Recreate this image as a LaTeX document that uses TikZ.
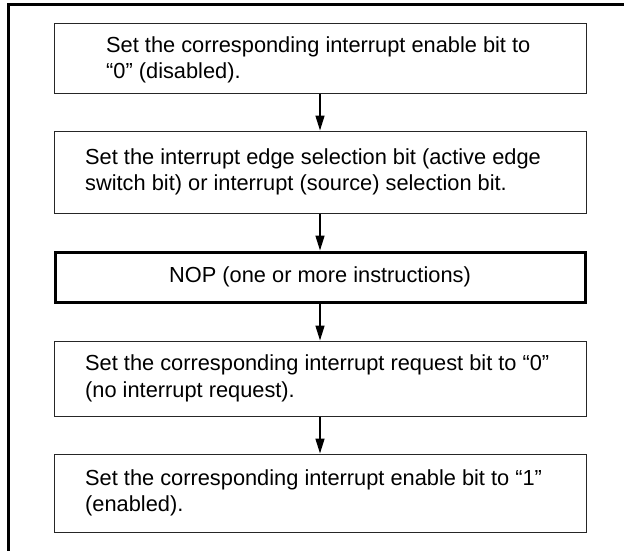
\documentclass[tikz,border=0pt]{standalone}
\usepackage{fontspec}
\setmainfont{Liberation Sans}
\usetikzlibrary{arrows.meta}
\tikzset{
  x=1pt, y=1pt,
  frameline/.style={line width=3pt},
  stepbox/.style={draw=black!85, line width=1pt, minimum width=532pt, inner sep=0pt},
  thickbox/.style={stepbox, draw=black, line width=3pt, minimum width=530pt},
  steptext/.style={align=left, anchor=west, inner sep=0pt,
    font=\fontsize{21.8}{26.5}\selectfont},
  flow/.style={line width=1.5pt, -{Triangle[length=15pt,width=9pt]}}
}
\begin{document}
\begin{tikzpicture}
\useasboundingbox (0,0) rectangle (624,-551);
\draw[frameline] (8.5,-551) -- (8.5,-4.5) -- (624,-4.5);
\node[stepbox, minimum height=69pt] (s1) at (320,-58.5) {};
\node[steptext] (t1) at (106,-60)
  {Set the corresponding interrupt enable bit to\\“0” (disabled).};
\node[stepbox, minimum height=82pt] (s2) at (320,-172) {};
\node[steptext] (t2) at (85,-172)
  {Set the interrupt edge selection bit (active edge\\switch bit) or interrupt (source) selection bit.};
\node[thickbox, minimum height=50pt] (s3) at (320,-277) {};
\node[steptext, anchor=center] (t3) at (320,-277) {NOP (one or more instructions)};
\node[stepbox, minimum height=75pt] (s4) at (320,-378.5) {};
\node[steptext] (t4) at (85,-378.5)
  {Set the corresponding interrupt request bit to “0”\\(no interrupt request).};
\node[stepbox, minimum height=78pt] (s5) at (320,-493) {};
\node[steptext] (t5) at (85,-493)
  {Set the corresponding interrupt enable bit to “1”\\(enabled).};
\draw[flow] (s1.south) -- (s2.north);
\draw[flow] (s2.south) -- (s3.north);
\draw[flow] (s3.south) -- (s4.north);
\draw[flow] (s4.south) -- (s5.north);
\end{tikzpicture}
\end{document}
